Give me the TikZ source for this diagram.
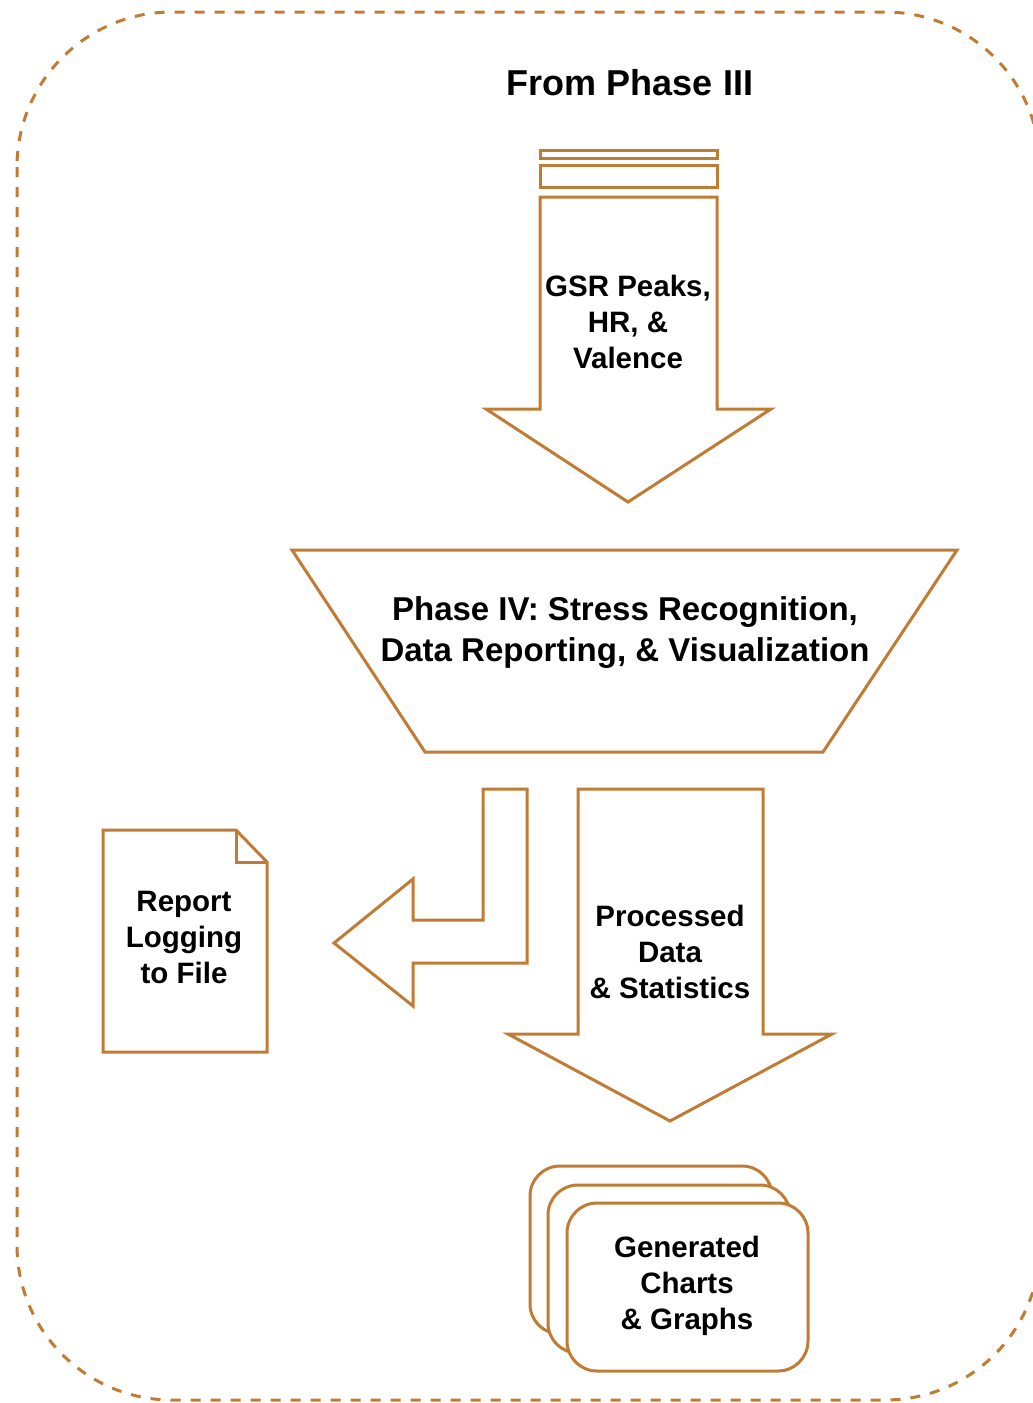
\documentclass[tikz,border=0pt]{standalone}
\usepackage{fontspec}
\setmainfont{Liberation Sans}
\definecolor{accent}{RGB}{192,124,52}
\tikzset{
  outline/.style={draw=accent, line width=3pt, line join=miter, fill=white},
  frame/.style={draw=accent, line width=3pt, dash pattern=on 10pt off 10pt, rounded corners=155pt},
  label/.style={font=\fontsize{29.5}{36}\selectfont\bfseries, align=center, text=black, inner sep=0pt},
  heading/.style={font=\fontsize{36}{42}\selectfont\bfseries, text=black, inner sep=0pt},
  sheet/.style={outline, rounded corners=30pt},
}
\begin{document}
\begin{tikzpicture}[x=1pt,y=-1pt]
\useasboundingbox (0,0) rectangle (1033,1403);

% dashed outer frame
\draw[frame] (17,12) rectangle (1040,1400);

% heading
\node[heading] (title) at (630,83) {From Phase III};

% incoming block arrow with its two lines on top
\draw[outline] (540,150) rectangle (717,158);
\draw[outline] (540,165) rectangle (717,187);
\draw[outline] (540,197) -- (717,197) -- (717,409) -- (771,409) -- (628,502)
  -- (486,409) -- (540,409) -- cycle;
\node[label] (inputs) at (628,322) {GSR Peaks,\\HR, \&\\Valence};

% phase block
\draw[outline] (292,550) -- (957,550) -- (823,752) -- (425,752) -- cycle;
\node[label, font=\fontsize{33}{41}\selectfont\bfseries] (phase) at (625,633)
  {Phase IV: Stress Recognition,\\Data Reporting, \& Visualization};

% bent arrow towards the report
\draw[outline] (527,789) -- (483,789) -- (483,920) -- (413,920) -- (413,879)
  -- (334,943) -- (413,1006) -- (413,963) -- (527,963) -- cycle;

% report document
\draw[outline] (103,830) -- (236,830) -- (267,862) -- (267,1052) -- (103,1052) -- cycle;
\draw[draw=accent, line width=3pt] (236,830) -- (236,862) -- (267,862);
\node[label] (report) at (184,937) {Report\\Logging\\to File};

% outgoing block arrow
\draw[outline] (578,789) -- (763,789) -- (763,1034) -- (832,1034) -- (670,1121)
  -- (508,1034) -- (578,1034) -- cycle;
\node[label] (processed) at (670,952) {Processed\\Data\\\& Statistics};

% stacked charts
\draw[sheet] (530,1166) rectangle (772,1334);
\draw[sheet] (548,1185) rectangle (790,1353);
\draw[sheet] (567,1203) rectangle (808,1371);
\node[label] (charts) at (687,1286) {Generated\\Charts\\\& Graphs};
\end{tikzpicture}
\end{document}
